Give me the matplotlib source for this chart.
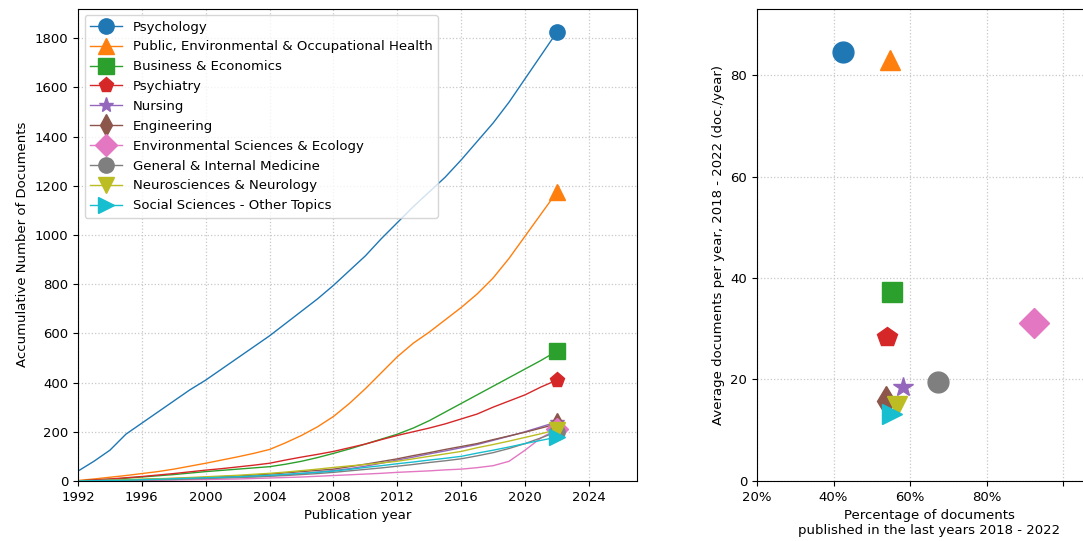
"""Subject-area growth: cumulative documents per year and recent-activity scatter."""

import matplotlib

matplotlib.use("Agg")
import matplotlib.pyplot as plt
from matplotlib.ticker import FixedLocator

plt.rcParams["font.size"] = 9.5

years = list(range(1992, 2023))

subjects = [
    "Psychology",
    "Public, Environmental & Occupational Health",
    "Business & Economics",
    "Psychiatry",
    "Nursing",
    "Engineering",
    "Environmental Sciences & Ecology",
    "General & Internal Medicine",
    "Neurosciences & Neurology",
    "Social Sciences - Other Topics",
]
markers = ["o", "^", "s", "p", "*", "d", "D", "o", "v", ">"]
colors = ["#1f77b4", "#ff7f0e", "#2ca02c", "#d62728", "#9467bd",
          "#8c564b", "#e377c2", "#7f7f7f", "#bcbd22", "#17becf"]

# cumulative number of documents, 1992..2022
psychology = [40, 80, 125, 190, 235, 280, 325, 370, 410, 455, 500, 545, 590, 640, 690, 740,
              795, 855, 915, 985, 1050, 1115, 1175, 1235, 1305, 1380, 1455, 1540, 1635, 1730, 1825]
public_health = [2, 8, 15, 22, 30, 38, 48, 60, 72, 85, 98, 112, 128, 155, 185, 220,
                 262, 315, 375, 440, 505, 560, 605, 655, 705, 760, 825, 905, 995, 1085, 1175]
business = [0, 3, 7, 11, 16, 21, 26, 32, 38, 43, 48, 53, 58, 68, 80, 95,
            112, 130, 150, 170, 190, 215, 245, 280, 315, 350, 385, 420, 455, 490, 528]
psychiatry = [0, 4, 8, 13, 18, 24, 30, 37, 44, 50, 57, 64, 72, 85, 97, 108,
              120, 135, 150, 168, 185, 200, 215, 232, 252, 272, 300, 325, 350, 382, 410]
nursing = [0, 1, 2, 3, 5, 6, 8, 10, 12, 14, 16, 18, 21, 25, 30, 36,
           42, 50, 60, 72, 85, 97, 110, 122, 135, 148, 165, 182, 200, 220, 240]
engineering = [0, 1, 2, 4, 6, 8, 10, 12, 14, 17, 20, 24, 28, 33, 38, 43,
               48, 58, 68, 79, 90, 103, 115, 128, 140, 152, 168, 183, 198, 215, 232]
env_sciences = [0, 0, 1, 1, 2, 3, 4, 5, 6, 7, 8, 10, 12, 14, 16, 19,
                22, 25, 28, 31, 35, 38, 41, 45, 48, 54, 62, 80, 125, 175, 210]
general_medicine = [0, 1, 2, 3, 4, 5, 6, 8, 10, 12, 14, 16, 19, 22, 26, 30,
                    35, 41, 47, 53, 60, 67, 75, 82, 90, 102, 115, 132, 152, 175, 200]
neurosciences = [0, 1, 3, 5, 7, 9, 11, 14, 17, 20, 23, 27, 31, 36, 42, 48,
                 55, 61, 67, 73, 80, 90, 100, 110, 120, 135, 148, 162, 177, 192, 208]
social_sciences = [0, 1, 2, 3, 5, 7, 9, 11, 13, 15, 17, 20, 23, 27, 31, 35,
                   40, 47, 55, 62, 70, 77, 85, 92, 100, 113, 125, 138, 152, 165, 178]

cumulative = [psychology, public_health, business, psychiatry, nursing,
              engineering, env_sciences, general_medicine, neurosciences, social_sciences]

# share of documents published 2018-2022 and average documents per year in that window
recent_share = [0.425, 0.548, 0.553, 0.540, 0.582, 0.537, 0.924, 0.673, 0.566, 0.553]
recent_per_year = [84.6, 83.0, 37.2, 28.3, 18.6, 15.8, 31.2, 19.6, 14.8, 13.2]

share_ticks = [0.2, 0.4, 0.6, 0.8, 1.0]
share_tick_labels = ["20%", "40%", "60%", "80%", ""]

fig = plt.figure(figsize=(10.83, 5.41), dpi=100)
ax1 = fig.add_axes([0.072, 0.111, 0.516, 0.873])
ax2 = fig.add_axes([0.699, 0.111, 0.318, 0.872])

grid_kw = dict(color="#c8c8c8", linestyle=":", linewidth=0.9)

# left: cumulative curves with a marker on the last year
for name, ys, m, c in zip(subjects, cumulative, markers, colors):
    ax1.plot(years, ys, color=c, linewidth=1.0, marker=m, markevery=[-1],
             markersize=11, label=name)
ax1.set_xlim(1992, 2027)
ax1.set_ylim(0, 1920)
ax1.xaxis.set_major_locator(FixedLocator(range(1992, 2025, 4)))
ax1.yaxis.set_major_locator(FixedLocator(range(0, 1801, 200)))
ax1.set_xlabel("Publication year")
ax1.set_ylabel("Accumulative Number of Documents")
ax1.grid(True, **grid_kw)
ax1.legend(loc="upper left", fontsize=9.5, handlelength=2.4,
           labelspacing=0.52, handletextpad=0.85)

# right: recent activity per subject
for x, y, m, c in zip(recent_share, recent_per_year, markers, colors):
    ax2.plot([x], [y], linestyle="none", marker=m, color=c, markersize=15)
ax2.set_xlim(0.2, 1.1)
ax2.set_ylim(0, 93)
ax2.set_xticks(share_ticks)
ax2.set_xticklabels(share_tick_labels)
ax2.set_yticks([0, 20, 40, 60, 80])
ax2.set_xlabel("Percentage of documents\npublished in the last years 2018 - 2022")
ax2.set_ylabel("Average documents per year, 2018 - 2022 (doc./year)")
ax2.grid(True, **grid_kw)

fig.savefig("out.png", dpi=100)
